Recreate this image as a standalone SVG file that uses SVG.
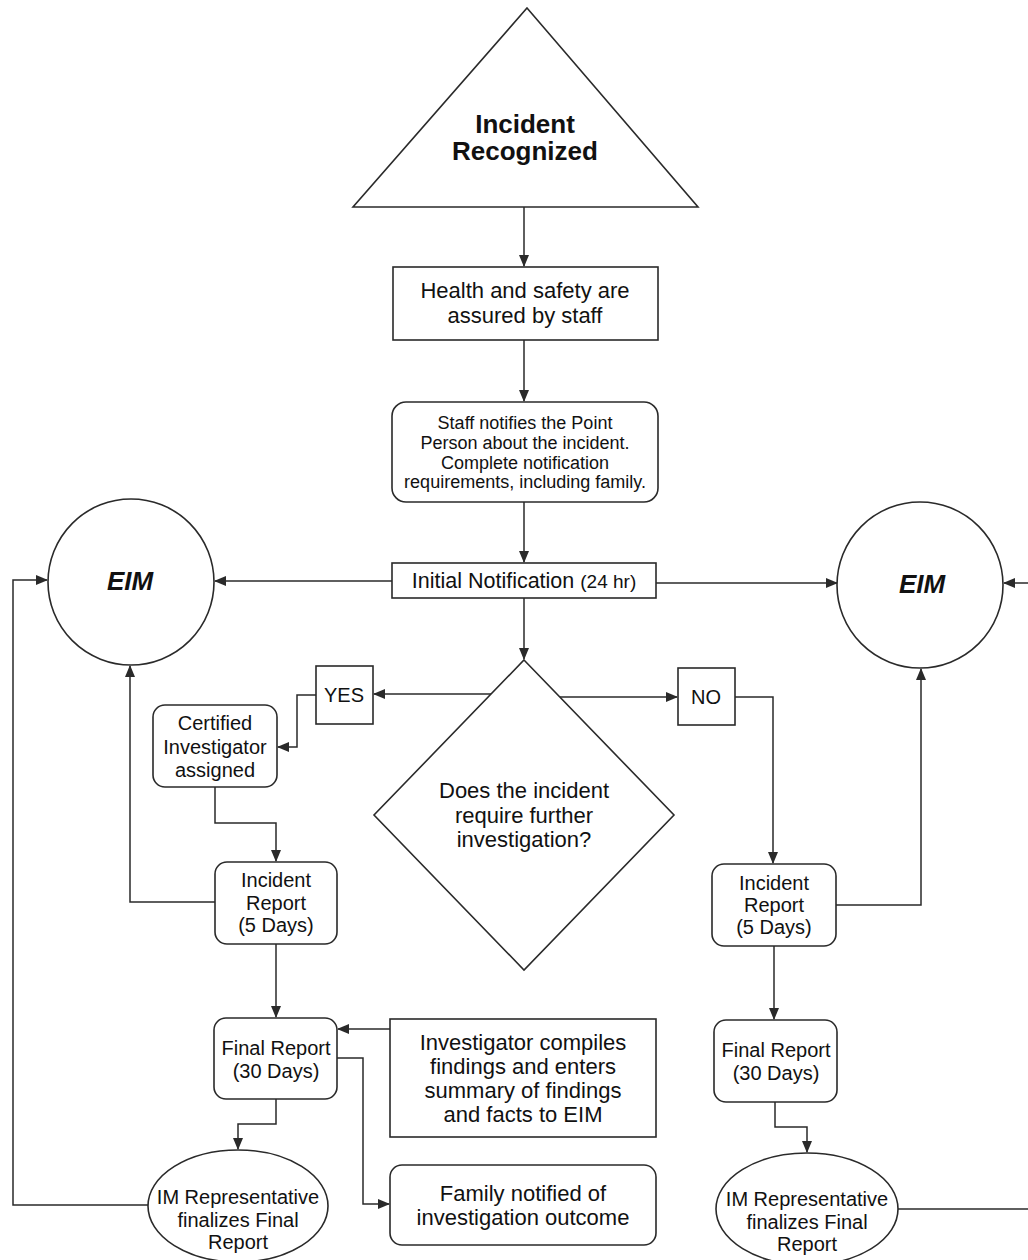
<svg xmlns="http://www.w3.org/2000/svg" width="1028" height="1260" viewBox="0 0 1028 1260">
<style>
  .shape { fill: #ffffff; stroke: #2a2a2a; stroke-width: 1.6; }
  .conn { fill: none; stroke: #2a2a2a; stroke-width: 1.5; }
  text { font-family: "Liberation Sans", Arial, sans-serif; fill: #111; text-anchor: middle; }
  .t22 { font-size: 22px; }
  .t20 { font-size: 20px; }
  .t18 { font-size: 18px; }
  .title { font-size: 26px; font-weight: bold; }
  .eim { font-size: 26px; font-weight: bold; font-style: italic; }
</style>
<defs>
  <marker id="arr" markerWidth="12" markerHeight="10" refX="11" refY="5" orient="auto" markerUnits="userSpaceOnUse">
    <path d="M0,0 L12,5 L0,10 Z" fill="#2a2a2a"/>
  </marker>
</defs>
<rect width="1028" height="1260" fill="#ffffff"/>

<g id="connectors">
  <path class="conn" d="M524,207 V266" marker-end="url(#arr)"/>
  <path class="conn" d="M524,340 V401" marker-end="url(#arr)"/>
  <path class="conn" d="M524,502 V562" marker-end="url(#arr)"/>
  <path class="conn" d="M524,598 V659" marker-end="url(#arr)"/>
  <path class="conn" d="M392,581 H215" marker-end="url(#arr)"/>
  <path class="conn" d="M656,583 H837" marker-end="url(#arr)"/>
  <path class="conn" d="M1028,583 H1004" marker-end="url(#arr)"/>
  <path class="conn" d="M491,694 H374" marker-end="url(#arr)"/>
  <path class="conn" d="M560,697 H677" marker-end="url(#arr)"/>
  <path class="conn" d="M316,695 H297 V747 H278" marker-end="url(#arr)"/>
  <path class="conn" d="M215,787 V823 H276 V861" marker-end="url(#arr)"/>
  <path class="conn" d="M735,697 H773 V863" marker-end="url(#arr)"/>
  <path class="conn" d="M215,902 H130 V666" marker-end="url(#arr)"/>
  <path class="conn" d="M836,905 H921 V669" marker-end="url(#arr)"/>
  <path class="conn" d="M276,944 V1017" marker-end="url(#arr)"/>
  <path class="conn" d="M774,946 V1019" marker-end="url(#arr)"/>
  <path class="conn" d="M390,1029 H338" marker-end="url(#arr)"/>
  <path class="conn" d="M337,1058 H363 V1204 H389" marker-end="url(#arr)"/>
  <path class="conn" d="M276,1099 V1124 H238 V1149" marker-end="url(#arr)"/>
  <path class="conn" d="M775,1102 V1127 H807 V1152" marker-end="url(#arr)"/>
  <path class="conn" d="M148,1205 H13 V580 H47" marker-end="url(#arr)"/>
  <path class="conn" d="M898,1209 H1028"/>
</g>

<g id="incident-recognized">
  <polygon class="shape" points="527,8 698,207 353,207"/>
  <text class="title" x="525" y="133">Incident</text>
  <text class="title" x="525" y="160">Recognized</text>
</g>

<g id="health-safety">
  <rect class="shape" x="393" y="267" width="265" height="73"/>
  <text class="t22" x="525" y="298">Health and safety are</text>
  <text class="t22" x="525" y="323">assured by staff</text>
</g>

<g id="staff-notifies">
  <rect class="shape" x="392" y="402" width="266" height="100" rx="14"/>
  <text class="t18" x="525" y="429">Staff notifies the Point</text>
  <text class="t18" x="525" y="449">Person about the incident.</text>
  <text class="t18" x="525" y="469">Complete notification</text>
  <text class="t18" x="525" y="488">requirements, including family.</text>
</g>

<g id="initial-notification">
  <rect class="shape" x="392" y="563" width="264" height="35"/>
  <text x="524" y="588"><tspan style="font-size:21.5px">Initial Notification </tspan><tspan style="font-size:19px">(24 hr)</tspan></text>
</g>

<g id="eim-left">
  <circle class="shape" cx="131" cy="582" r="83"/>
  <text class="eim" x="130" y="590">EIM</text>
</g>

<g id="eim-right">
  <circle class="shape" cx="920" cy="585" r="83"/>
  <text class="eim" x="922" y="593">EIM</text>
</g>

<g id="decision">
  <polygon class="shape" points="524,660 674,815 524,970 374,815"/>
  <text class="t22" x="524" y="798">Does the incident</text>
  <text class="t22" x="524" y="823">require further</text>
  <text class="t22" x="524" y="847">investigation?</text>
</g>

<g id="yes">
  <rect class="shape" x="316" y="666" width="57" height="58"/>
  <text class="t20" x="344" y="702">YES</text>
</g>

<g id="no">
  <rect class="shape" x="678" y="668" width="57" height="57"/>
  <text class="t20" x="706" y="704">NO</text>
</g>

<g id="certified-investigator">
  <rect class="shape" x="153" y="705" width="124" height="82" rx="12"/>
  <text class="t20" x="215" y="730">Certified</text>
  <text class="t20" x="215" y="754">Investigator</text>
  <text class="t20" x="215" y="777">assigned</text>
</g>

<g id="incident-report-left">
  <rect class="shape" x="215" y="862" width="122" height="82" rx="12"/>
  <text class="t20" x="276" y="887">Incident</text>
  <text class="t20" x="276" y="910">Report</text>
  <text class="t20" x="276" y="932">(5 Days)</text>
</g>

<g id="final-report-left">
  <rect class="shape" x="214" y="1018" width="123" height="81" rx="12"/>
  <text class="t20" x="276" y="1055">Final Report</text>
  <text class="t20" x="276" y="1078">(30 Days)</text>
</g>

<g id="investigator-compiles">
  <rect class="shape" x="390" y="1019" width="266" height="118"/>
  <text class="t22" x="523" y="1050">Investigator compiles</text>
  <text class="t22" x="523" y="1074">findings and enters</text>
  <text class="t22" x="523" y="1098">summary of findings</text>
  <text class="t22" x="523" y="1122">and facts to EIM</text>
</g>

<g id="family-notified">
  <rect class="shape" x="390" y="1165" width="266" height="80" rx="12"/>
  <text class="t22" x="523" y="1201">Family notified of</text>
  <text class="t22" x="523" y="1225">investigation outcome</text>
</g>

<g id="im-rep-left">
  <ellipse class="shape" cx="238" cy="1206" rx="90" ry="56"/>
  <text class="t20" x="238" y="1204">IM Representative</text>
  <text class="t20" x="238" y="1227">finalizes Final</text>
  <text class="t20" x="238" y="1249">Report</text>
</g>

<g id="incident-report-right">
  <rect class="shape" x="712" y="864" width="124" height="82" rx="12"/>
  <text class="t20" x="774" y="890">Incident</text>
  <text class="t20" x="774" y="912">Report</text>
  <text class="t20" x="774" y="934">(5 Days)</text>
</g>

<g id="final-report-right">
  <rect class="shape" x="714" y="1020" width="123" height="82" rx="12"/>
  <text class="t20" x="776" y="1057">Final Report</text>
  <text class="t20" x="776" y="1080">(30 Days)</text>
</g>

<g id="im-rep-right">
  <ellipse class="shape" cx="807" cy="1209" rx="91" ry="56"/>
  <text class="t20" x="807" y="1206">IM Representative</text>
  <text class="t20" x="807" y="1229">finalizes Final</text>
  <text class="t20" x="807" y="1251">Report</text>
</g>
</svg>
